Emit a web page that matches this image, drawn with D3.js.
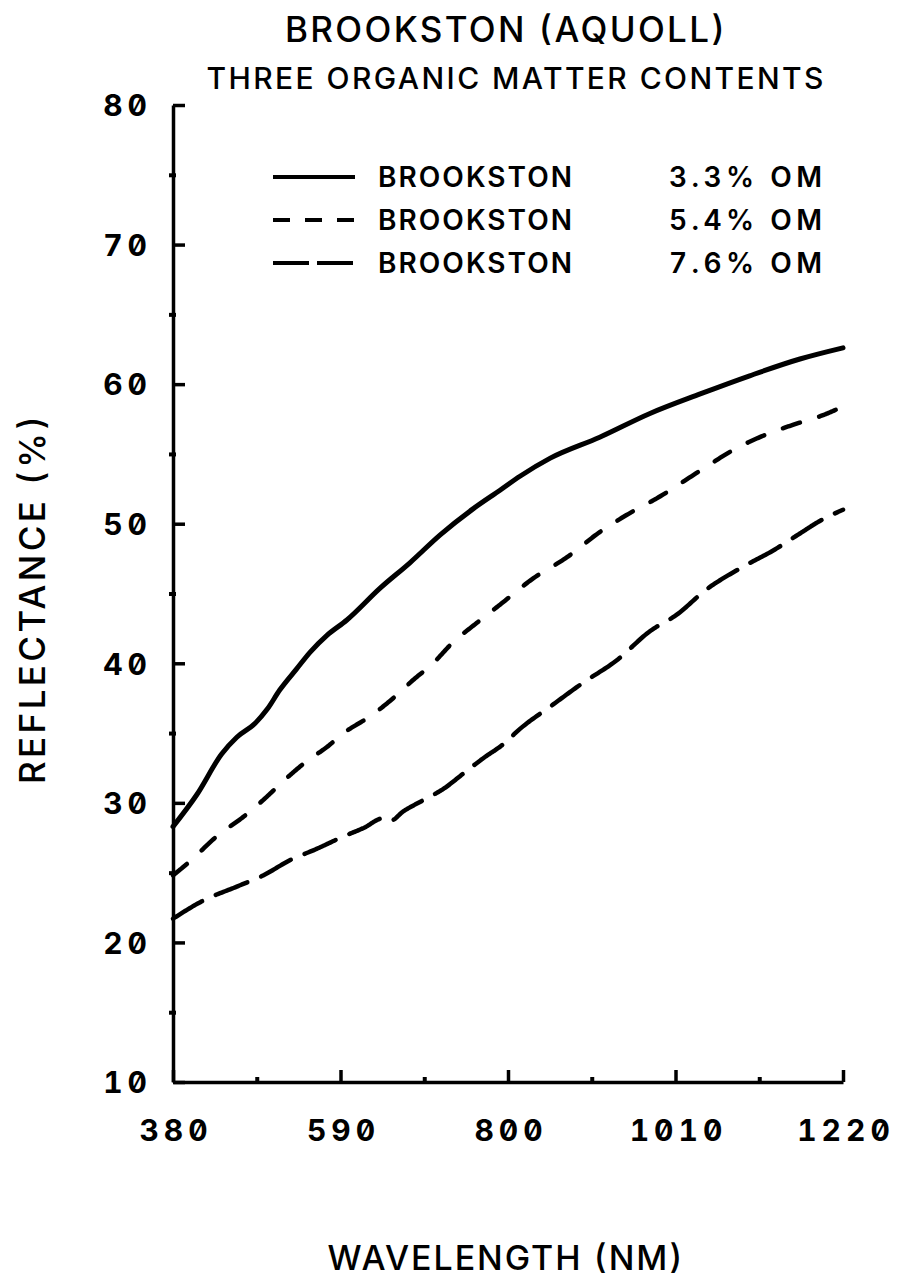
<!DOCTYPE html>
<html>
<head>
<meta charset="utf-8">
<script src="https://cdn.jsdelivr.net/npm/d3@7"></script>
<style>
  html, body { margin: 0; padding: 0; background: #fff; }
  svg { display: block; }
  text {
    font-family: Inter, "DejaVu Sans", sans-serif;
    font-variant-numeric: tabular-nums slashed-zero;
    font-feature-settings: "zero" 1, "tnum" 1;
    fill: #000;
  }
</style>
</head>
<body>
<svg id="chart" width="897" height="1284"></svg>
<script>
// Spectral reflectance of Brookston soil at three organic-matter levels
const wavelengthTicks = [380, 590, 800, 1010, 1220];
const wavelengthMinor = [485, 695, 905, 1115];
const reflectanceTicks = [10, 20, 30, 40, 50, 60, 70, 80];
const reflectanceMinor = [15, 25, 35, 45, 55, 65, 75];

// 3.3% organic matter
const wl33 = [380, 410, 441, 460, 483, 498, 514, 535, 552, 573, 598, 640, 677, 715, 757, 790, 815, 853, 915, 978, 1041, 1103, 1166, 1220];
const om33 = [28.3, 30.6, 33.5, 34.7, 35.7, 36.7, 38.1, 39.6, 40.8, 42.0, 43.1, 45.4, 47.2, 49.2, 51.1, 52.4, 53.4, 54.7, 56.2, 57.9, 59.3, 60.6, 61.8, 62.6];

// 5.4% organic matter
const wl54 = [380, 399, 439, 466, 493, 523, 548, 573, 594, 627, 652, 681, 706, 731, 761, 790, 832, 874, 915, 957, 986, 1041, 1083, 1124, 1158, 1196, 1220];
const om54 = [24.8, 25.7, 27.8, 28.9, 30.2, 31.8, 33.0, 34.0, 35.0, 36.2, 37.3, 38.8, 40.0, 41.5, 42.9, 44.2, 46.1, 47.6, 49.4, 50.9, 51.8, 53.8, 55.3, 56.4, 57.1, 57.8, 58.4];

// 7.6% organic matter
const wl76 = [380, 418, 460, 493, 527, 560, 594, 619, 644, 652, 669, 694, 719, 744, 769, 794, 815, 853, 894, 936, 978, 1012, 1049, 1091, 1133, 1166, 1191, 1220];
const om76 = [21.7, 23.0, 24.0, 24.8, 25.9, 26.7, 27.6, 28.2, 28.9, 28.7, 29.4, 30.2, 31.0, 32.1, 33.2, 34.2, 35.3, 36.9, 38.6, 40.2, 42.3, 43.5, 45.3, 46.8, 48.1, 49.3, 50.2, 51.0];

const legendNames = ["BROOKSTON", "BROOKSTON", "BROOKSTON"];
const legendContents = ["3.3% OM", "5.4% OM", "7.6% OM"];

const titleText = "BROOKSTON (AQUOLL)";
const subtitleText = "THREE ORGANIC MATTER CONTENTS";
const xTitle = "WAVELENGTH (NM)";
const yTitle = "REFLECTANCE (%)";

// Dash pattern [dash, gap] along each curve (null = solid); round caps add the stroke width to each dash
const curveDash = [null, [18, 20], [34, 15]];
const legendDash = [null, [17, 15], [36, 8]];

const svg = d3.select("#chart");
const x = d3.scaleLinear().domain([380, 1220]).range([173, 843]);
const y = d3.scaleLinear().domain([10, 80]).range([1082, 105]);

function label(sel, size, weight) {
  return sel.style("font-size", size + "px").style("font-weight", weight)
    .style("font-feature-settings", '"zero" 1, "tnum" 1');
}

// Titles
label(svg.append("text"), 35, 500)
  .attr("x", 505).attr("y", 42).attr("text-anchor", "middle")
  .attr("textLength", 440).attr("lengthAdjust", "spacing")
  .text(titleText);
label(svg.append("text"), 30, 500)
  .attr("x", 515).attr("y", 89).attr("text-anchor", "middle")
  .attr("textLength", 617).attr("lengthAdjust", "spacing")
  .text(subtitleText);

// Y axis
const yAxis = svg.append("g").attr("transform", "translate(173,0)")
  .call(d3.axisLeft(y).tickValues(reflectanceTicks).tickFormat(d3.format("d"))
    .tickSizeInner(-12).tickSizeOuter(0).tickPadding(21));
yAxis.select(".domain").attr("stroke", "#000").attr("stroke-width", 3.5);
yAxis.selectAll(".tick line").attr("stroke", "#000").attr("stroke-width", 3.5);
label(yAxis.selectAll(".tick text"), 30, 700)
  .style("font-family", "Inter, sans-serif").style("letter-spacing", "5px")
  .attr("dy", "0.36em");

const yMinor = svg.append("g").attr("transform", "translate(173,0)")
  .call(d3.axisLeft(y).tickValues(reflectanceMinor).tickSize(-5).tickFormat(""));
yMinor.select(".domain").remove();
yMinor.selectAll(".tick line").attr("stroke", "#000").attr("stroke-width", 4)
  .attr("x1", 3).attr("x2", -4);

// X axis
const xAxis = svg.append("g").attr("transform", "translate(0,1082)")
  .call(d3.axisBottom(x).tickValues(wavelengthTicks).tickFormat(d3.format("d"))
    .tickSizeInner(-12).tickSizeOuter(0));
xAxis.select(".domain").attr("stroke", "#000").attr("stroke-width", 3.5);
xAxis.selectAll(".tick line").attr("stroke", "#000").attr("stroke-width", 3.5);
label(xAxis.selectAll(".tick text"), 30, 700)
  .style("font-family", "Inter, sans-serif").style("letter-spacing", "5px")
  .attr("x", 2.5).attr("y", 59).attr("dy", 0);

const xMinor = svg.append("g").attr("transform", "translate(0,1082)")
  .call(d3.axisBottom(x).tickValues(wavelengthMinor).tickSize(-5).tickFormat(""));
xMinor.select(".domain").remove();
xMinor.selectAll(".tick line").attr("stroke", "#000").attr("stroke-width", 4);

// Axis titles
label(svg.append("text"), 34, 500)
  .attr("x", 505).attr("y", 1270).attr("text-anchor", "middle")
  .attr("textLength", 355).attr("lengthAdjust", "spacing")
  .text(xTitle);
label(svg.append("text"), 35, 500)
  .attr("transform", "translate(45,600) rotate(-90)").attr("text-anchor", "middle")
  .attr("textLength", 368).attr("lengthAdjust", "spacing")
  .text(yTitle);

// Sample the smooth curve produced by d3.line into a dense polyline (pixel space)
function sampleCurve(gen, data) {
  const out = [];
  let cx = 0, cy = 0;
  const ctx = {
    moveTo(px, py) { out.push([px, py]); cx = px; cy = py; },
    lineTo(px, py) { out.push([px, py]); cx = px; cy = py; },
    bezierCurveTo(x1, y1, x2, y2, px, py) {
      for (let k = 1; k <= 20; k++) {
        const t = k / 20, u = 1 - t;
        out.push([
          u * u * u * cx + 3 * u * u * t * x1 + 3 * u * t * t * x2 + t * t * t * px,
          u * u * u * cy + 3 * u * u * t * y1 + 3 * u * t * t * y2 + t * t * t * py
        ]);
      }
      cx = px; cy = py;
    },
    closePath() {}
  };
  gen.context(ctx)(data);
  gen.context(null);
  return out;
}

// Cut a polyline into dash pieces of the given pattern
function dashPieces(poly, dash, gap) {
  const pieces = [];
  let on = true, remaining = dash, current = [poly[0]];
  for (let i = 1; i < poly.length; i++) {
    const a = poly[i - 1], b = poly[i];
    const len = Math.hypot(b[0] - a[0], b[1] - a[1]);
    let t0 = 0;
    while (len - t0 > remaining) {
      t0 += remaining;
      const f = t0 / len;
      const pt = [a[0] + (b[0] - a[0]) * f, a[1] + (b[1] - a[1]) * f];
      if (on) { current.push(pt); pieces.push(current); current = null; }
      else { current = [pt]; }
      on = !on;
      remaining = on ? dash : gap;
    }
    remaining -= (len - t0);
    if (on) current.push(b);
  }
  if (on && current && current.length > 1) pieces.push(current);
  return pieces;
}

function strokeStyle(sel, w) {
  return sel.attr("fill", "none").attr("stroke", "#000").attr("stroke-width", w)
    .attr("stroke-linecap", "round").attr("stroke-linejoin", "round");
}

// Curves
const line = d3.line().x(d => x(d[0])).y(d => y(d[1])).curve(d3.curveMonotoneX);
const piece = d3.line();
const series = [[wl33, om33], [wl54, om54], [wl76, om76]];

series.forEach(([wl, r], i) => {
  const pts = wl.map((w, k) => [w, r[k]]);
  const pattern = curveDash[i];
  if (!pattern) {
    strokeStyle(svg.append("path").datum(pts).attr("d", line), 5);
    return;
  }
  const poly = sampleCurve(line, pts);
  const g = svg.append("g");
  dashPieces(poly, pattern[0], pattern[1]).forEach(seg => {
    strokeStyle(g.append("path").attr("d", piece(seg)), 4.5);
  });
});

// Legend
const legendRows = [177, 220, 263];
const legendX = d3.scaleLinear().domain([0, 1]).range([273, 355]);
legendRows.forEach((ry, i) => {
  const pattern = legendDash[i];
  const seg = [[legendX(0), ry], [legendX(1), ry]];
  const pieces = pattern ? dashPieces(seg, pattern[0], pattern[1]) : [seg];
  pieces.forEach(p => {
    svg.append("path").attr("d", piece(p))
      .attr("fill", "none").attr("stroke", "#000").attr("stroke-width", 4);
  });
  label(svg.append("text"), 28, 600)
    .attr("x", 378).attr("y", ry + 10)
    .attr("textLength", 194).attr("lengthAdjust", "spacing")
    .text(legendNames[i]);
  label(svg.append("text"), 28, 600)
    .attr("x", 669).attr("y", ry + 10)
    .attr("textLength", 153).attr("lengthAdjust", "spacing")
    .text(legendContents[i]);
});
</script>
</body>
</html>
